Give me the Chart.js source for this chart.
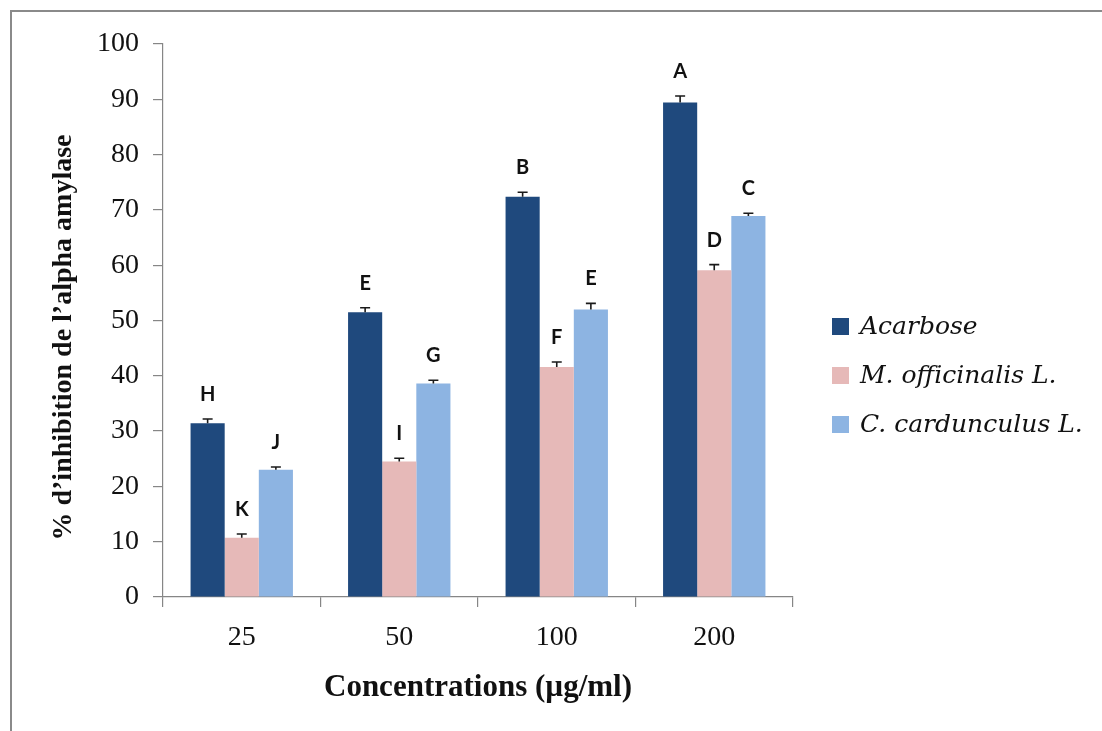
<!DOCTYPE html>
<html>
<head>
<meta charset="utf-8">
<script src="https://cdn.jsdelivr.net/npm/chart.js@4"></script>
<style>
  html, body { margin: 0; padding: 0; background: #fff; }
  #wrap { position: relative; width: 1102px; height: 731px; overflow: hidden; }
  #frame { position: absolute; left: 10px; top: 10px; right: -10px; bottom: -10px; border-top: 2px solid #8a8a8a; border-left: 2px solid #8a8a8a; }
  #chart { position: absolute; left: 0; top: 0; }
  .lg-box { position: absolute; width: 17px; height: 17px; }
  .lg-text { position: absolute; font: italic 25px "DejaVu Serif", serif; line-height: 30px; color: #111; white-space: nowrap; }
</style>
</head>
<body>
<div id="wrap">
  <div id="frame"></div>
  <canvas id="chart" width="1102" height="731"></canvas>
  <div id="legend"></div>
</div>
<script>
const concentrations = ['25', '50', '100', '200'];
const seriesNames = ['Acarbose', 'M. officinalis L.', 'C. cardunculus L.'];
const seriesColors = ['#1F497D', '#E6B9B8', '#8DB4E2'];

const acarbose = [31.4, 51.5, 72.4, 89.4];
const officinalis = [10.7, 24.5, 41.6, 59.1];
const cardunculus = [23.0, 38.6, 52.0, 68.9];

const acarboseErr = [0.8, 0.8, 0.8, 1.2];
const officinalisErr = [0.7, 0.6, 0.9, 1.0];
const cardunculusErr = [0.5, 0.6, 1.1, 0.5];

const acarboseLetters = ['H', 'E', 'B', 'A'];
const officinalisLetters = ['K', 'I', 'F', 'D'];
const cardunculusLetters = ['J', 'G', 'E', 'C'];

const yTicks = [0, 10, 20, 30, 40, 50, 60, 70, 80, 90, 100];
const yTitle = '% d\u2019inhibition de l\u2019alpha amylase';

const axisGrey = '#868686';

// error bar (upper half only, like the original) plus the significance letter
const errorLetterPlugin = {
  id: 'errorLetter',
  afterDatasetsDraw(chart) {
    const { ctx } = chart;
    const yScale = chart.scales.y;
    ctx.save();
    chart.data.datasets.forEach((ds, i) => {
      const meta = chart.getDatasetMeta(i);
      meta.data.forEach((bar, j) => {
        const capY = yScale.getPixelForValue(ds.data[j] + ds.errors[j]);
        ctx.strokeStyle = '#1a1a1a';
        ctx.lineWidth = 1.6;
        ctx.beginPath();
        ctx.moveTo(bar.x, bar.y);
        ctx.lineTo(bar.x, capY);
        ctx.moveTo(bar.x - 5, capY);
        ctx.lineTo(bar.x + 5, capY);
        ctx.stroke();

        ctx.fillStyle = '#111';
        ctx.font = 'bold 20px Lato, sans-serif';
        ctx.textAlign = 'center';
        ctx.textBaseline = 'alphabetic';
        ctx.fillText(ds.letters[j], bar.x, capY - 18);
      });
    });
    ctx.restore();
  }
};

// y title sits a little below the axis middle in the original, so draw it here
const yTitlePlugin = {
  id: 'yTitle',
  afterDraw(chart) {
    const { ctx, chartArea } = chart;
    ctx.save();
    ctx.translate(64, (chartArea.top + chartArea.bottom) / 2 + 17);
    ctx.rotate(-Math.PI / 2);
    ctx.font = 'bold 28px "Liberation Serif", serif';
    ctx.fillStyle = '#111';
    ctx.textAlign = 'center';
    ctx.textBaseline = 'middle';
    ctx.fillText(yTitle, 0, 0);
    ctx.restore();
  }
};

const seriesData = [acarbose, officinalis, cardunculus];
const seriesErr = [acarboseErr, officinalisErr, cardunculusErr];
const seriesLetters = [acarboseLetters, officinalisLetters, cardunculusLetters];

const datasets = seriesNames.map((name, i) => ({
  label: name,
  data: seriesData[i],
  errors: seriesErr[i],
  letters: seriesLetters[i],
  backgroundColor: seriesColors[i],
  borderWidth: 0,
  categoryPercentage: 0.65,
  barPercentage: 1.0
}));

new Chart(document.getElementById('chart'), {
  type: 'bar',
  data: { labels: concentrations, datasets },
  options: {
    responsive: false,
    animation: false,
    layout: { padding: { top: 44, right: 309, left: 0, bottom: 0 } },
    plugins: { legend: { display: false }, tooltip: { enabled: false } },
    scales: {
      x: {
        afterFit: s => { s.height = 134; },
        grid: { offset: true, drawOnChartArea: false, tickLength: 10, color: axisGrey, lineWidth: 1.2 },
        border: { color: axisGrey, width: 1.2 },
        ticks: { padding: 14, color: '#111', font: { family: 'Liberation Serif', size: 28 } },
        title: {
          display: true, text: 'Concentrations (µg/ml)', color: '#111',
          font: { family: 'Liberation Serif', size: 31, weight: 'bold' },
          padding: { top: 0, bottom: 24 }
        }
      },
      y: {
        min: 0, max: 100,
        afterFit: s => { s.width = 163; },
        afterBuildTicks: s => { s.ticks = yTicks.map(v => ({ value: v })); },
        grid: { drawOnChartArea: false, tickLength: 10, color: axisGrey, lineWidth: 1.2 },
        border: { color: axisGrey, width: 1.2 },
        ticks: { padding: 14, color: '#111', font: { family: 'Liberation Serif', size: 28 } },
        title: { display: false }
      }
    }
  },
  plugins: [errorLetterPlugin, yTitlePlugin]
});

// legend to the right of the plot
const legendEl = document.getElementById('legend');
const legendRows = [326, 375, 424];
seriesNames.forEach((name, i) => {
  const cy = legendRows[i];
  const box = document.createElement('div');
  box.className = 'lg-box';
  box.style.left = '832px';
  box.style.top = (cy - 8.5) + 'px';
  box.style.background = seriesColors[i];
  legendEl.appendChild(box);
  const txt = document.createElement('div');
  txt.className = 'lg-text';
  txt.style.left = '860px';
  txt.style.top = (cy - 15) + 'px';
  txt.textContent = name;
  legendEl.appendChild(txt);
});
</script>
</body>
</html>
